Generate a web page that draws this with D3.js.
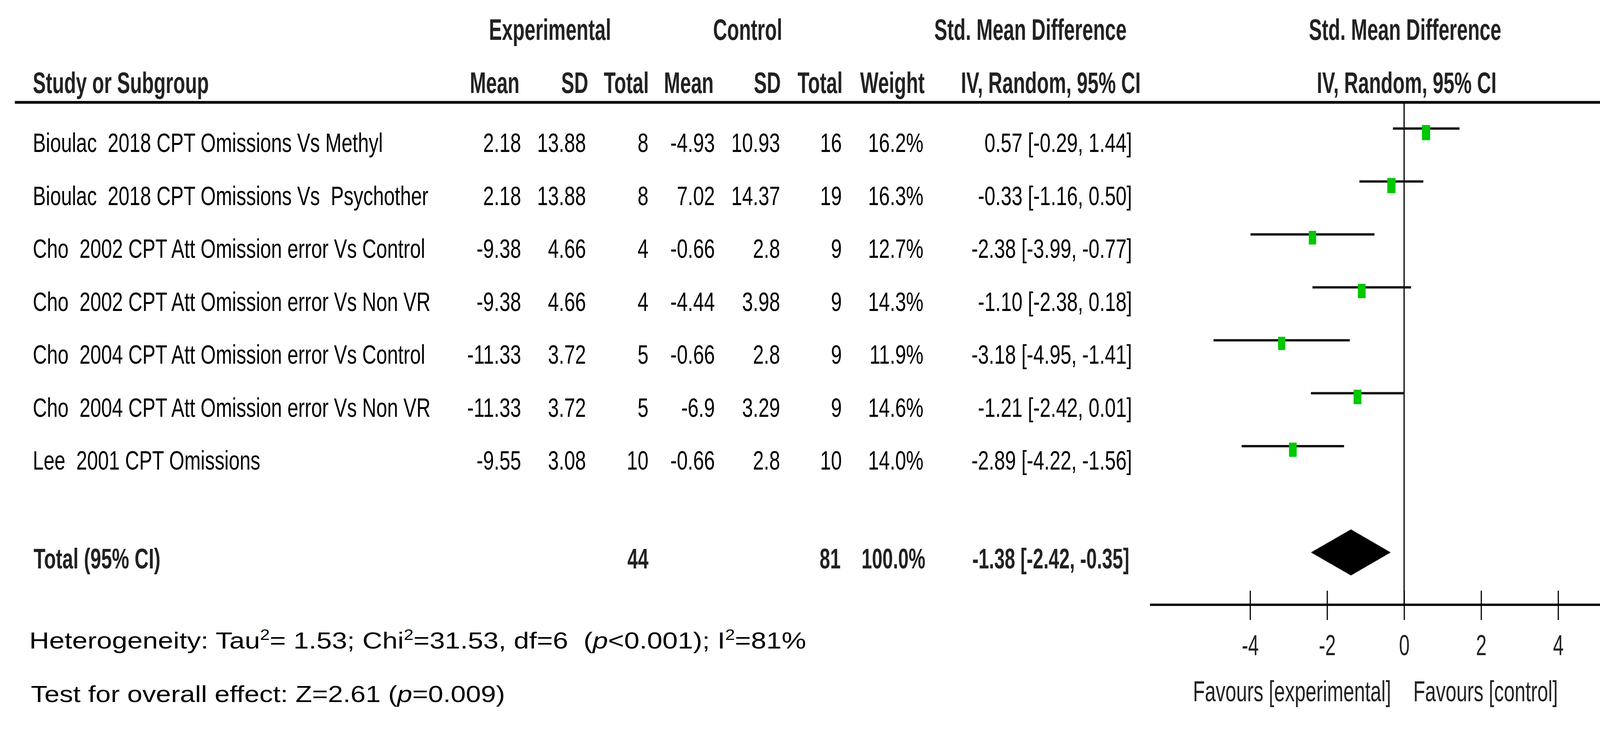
<!DOCTYPE html>
<html>
<head>
<meta charset="utf-8">
<script src="https://cdn.jsdelivr.net/npm/d3@7"></script>
<style>
  body { margin: 0; background: #fff; overflow: hidden; }
  svg { display: block; font-family: "Liberation Sans", Arial, sans-serif; }
  text { white-space: pre; }
</style>
</head>
<body>
<script>
// study data
const studies = [
    "Bioulac  2018 CPT Omissions Vs Methyl",
    "Bioulac  2018 CPT Omissions Vs  Psychother",
    "Cho  2002 CPT Att Omission error Vs Control",
    "Cho  2002 CPT Att Omission error Vs Non VR",
    "Cho  2004 CPT Att Omission error Vs Control",
    "Cho  2004 CPT Att Omission error Vs Non VR",
    "Lee  2001 CPT Omissions"
];
const expMean = [2.18, 2.18, -9.38, -9.38, -11.33, -11.33, -9.55];
const expSD = [13.88, 13.88, 4.66, 4.66, 3.72, 3.72, 3.08];
const expN = [8, 8, 4, 4, 5, 5, 10];
const ctlMean = [-4.93, 7.02, -0.66, -4.44, -0.66, -6.9, -0.66];
const ctlSD = [10.93, 14.37, 2.8, 3.98, 2.8, 3.29, 2.8];
const ctlN = [16, 19, 9, 9, 9, 9, 10];
const weights = [16.2, 16.3, 12.7, 14.3, 11.9, 14.6, 14.0];
const smd = [0.57, -0.33, -2.38, -1.10, -3.18, -1.21, -2.89];
const lower = [-0.29, -1.16, -3.99, -2.38, -4.95, -2.42, -4.22];
const upper = [1.44, 0.50, -0.77, 0.18, -1.41, 0.01, -1.56];

// pooled result
const totalN = [44, 81];
const totalWeight = 100.0;
const totalEffect = [-1.38, -2.42, -0.35]; // estimate, lower, upper

const tickValues = [-4, -2, 0, 2, 4];

const W = 4321, H = 1866;

const svg = d3.select("body").append("svg")
    .attr("width", W)
    .attr("height", H);

svg.append("rect").attr("width", W).attr("height", H).attr("fill", "#fff");

// text helper: the original type is horizontally squeezed, so scale x
function label(x, y, txt, o = {}) {
    return svg.append("text")
        .attr("transform", `translate(${x},${y}) scale(${o.sx || 0.735},1)`)
        .attr("text-anchor", o.anchor || "start")
        .attr("font-size", o.size || 68)
        .attr("font-weight", o.bold ? "bold" : "normal")
        .attr("fill", o.fill || "#000")
        .text(txt);
}

// stretch a text to a given width
function fit(sel, x, y, width) {
    const w = sel.node().getComputedTextLength();
    sel.attr("transform", `translate(${x},${y}) scale(${width / w},1)`);
}

// headers
const hd = {size: 76, bold: true, sx: 0.655, fill: "#222"};
label(1408, 102, "Experimental", {...hd, anchor: "middle"});
label(1914, 102, "Control", {...hd, anchor: "middle"});
label(2638, 102, "Std. Mean Difference", {...hd, anchor: "middle"});
label(3597, 102, "Std. Mean Difference", {...hd, anchor: "middle"});

label(84, 238, "Study or Subgroup", hd);
const headCols = [["Mean", 1330], ["SD", 1506], ["Total", 1661], ["Mean", 1827],
                  ["SD", 1999], ["Total", 2157], ["Weight", 2367]];
headCols.forEach(([t, x]) => label(x, 238, t, {...hd, anchor: "end"}));
label(2690, 238, "IV, Random, 95% CI", {...hd, anchor: "middle"});
label(3601, 238, "IV, Random, 95% CI", {...hd, anchor: "middle"});

// rows
const rowY = d3.scaleLinear().domain([0, studies.length - 1]).range([389, 1202]);

const cols = [
    {x: 1334, f: i => String(expMean[i])},
    {x: 1500, f: i => String(expSD[i])},
    {x: 1660, f: i => String(expN[i])},
    {x: 1830, f: i => String(ctlMean[i])},
    {x: 1997, f: i => String(ctlSD[i])},
    {x: 2155, f: i => String(ctlN[i])},
    {x: 2364, f: i => weights[i].toFixed(1) + "%"},
    {x: 2898, f: i => `${smd[i].toFixed(2)} [${lower[i].toFixed(2)}, ${upper[i].toFixed(2)}]`}
];

studies.forEach((s, i) => {
    const y = rowY(i);
    label(84, y, s);
    cols.forEach(c => label(c.x, y, c.f(i), {anchor: "end"}));
});

// total row
const totY = 1455;
const tot = {size: 72, bold: true, sx: 0.69, fill: "#222"};
const totNum = {...tot, anchor: "end", sx: 0.67};
label(86, totY, "Total (95% CI)", tot);
label(1660, totY, String(totalN[0]), totNum);
label(2152, totY, String(totalN[1]), totNum);
label(2369, totY, totalWeight.toFixed(1) + "%", totNum);
label(2891, totY, `${totalEffect[0].toFixed(2)} [${totalEffect[1].toFixed(2)}, ${totalEffect[2].toFixed(2)}]`, totNum);

// header rule
svg.append("line")
    .attr("x1", 38).attr("x2", 4289)
    .attr("y1", 262).attr("y2", 262)
    .attr("stroke", "#000").attr("stroke-width", 7);

// forest plot
const x = d3.scaleLinear().domain([-6.6, 6.6]).range([2944, 4245]);
const axisY = 1548;

svg.append("line")
    .attr("x1", x(0)).attr("x2", x(0))
    .attr("y1", 262).attr("y2", axisY)
    .attr("stroke", "#000").attr("stroke-width", 3);

const marker = d3.scaleLinear().domain([11.9, 16.3]).range([34, 39]);

const rows = svg.append("g").selectAll("g")
    .data(studies)
    .join("g");

rows.append("line")
    .attr("x1", (d, i) => x(lower[i]))
    .attr("x2", (d, i) => x(upper[i]))
    .attr("y1", (d, i) => rowY(i) - 60)
    .attr("y2", (d, i) => rowY(i) - 60)
    .attr("stroke", "#111")
    .attr("stroke-width", 6);

rows.append("rect")
    .attr("x", (d, i) => x(smd[i]) - marker(weights[i]) * 0.27)
    .attr("y", (d, i) => rowY(i) - 69)
    .attr("width", (d, i) => marker(weights[i]) * 0.54)
    .attr("height", (d, i) => marker(weights[i]))
    .attr("fill", "#00c800");

// pooled diamond
const dy = 1414, dh = 59;
svg.append("path")
    .attr("d", `M${x(totalEffect[1])},${dy} L${x(totalEffect[0])},${dy - dh} L${x(totalEffect[2])},${dy} L${x(totalEffect[0])},${dy + dh} Z`)
    .attr("fill", "#000");

// axis
svg.append("line")
    .attr("x1", x.range()[0]).attr("x2", x.range()[1])
    .attr("y1", axisY).attr("y2", axisY)
    .attr("stroke", "#000").attr("stroke-width", 6);

const gAxis = svg.append("g")
    .attr("transform", `translate(0,${axisY})`)
    .call(d3.axisBottom(x).tickValues(tickValues).tickSize(0).tickFormat(d => String(d)));
gAxis.select(".domain").remove();
gAxis.attr("font-size", null).attr("font-family", null);
gAxis.selectAll(".tick line")
    .attr("y1", -36).attr("y2", 39)
    .attr("stroke", "#000").attr("stroke-width", 3);
gAxis.selectAll(".tick text")
    .attr("y", null).attr("dy", null)
    .attr("transform", "translate(0,129) scale(0.66,1)")
    .attr("font-size", 74)
    .attr("fill", "#222");

// favours labels
const fav = {size: 74, fill: "#222"};
fit(label(3054, 1795, "Favours [experimental]", fav), 3054, 1795, 507);
fit(label(3618, 1795, "Favours [control]", fav), 3618, 1795, 370);

// heterogeneity and overall effect
const het = svg.append("text").attr("font-size", 60).attr("fill", "#000");
het.append("tspan").text("Heterogeneity: Tau");
het.append("tspan").attr("font-size", 38).attr("dy", -22).text("2");
het.append("tspan").attr("dy", 22).text("= 1.53; Chi");
het.append("tspan").attr("font-size", 38).attr("dy", -22).text("2");
het.append("tspan").attr("dy", 22).text("=31.53, df=6  (");
het.append("tspan").attr("font-style", "italic").text("p");
het.append("tspan").text("<0.001); I");
het.append("tspan").attr("font-size", 38).attr("dy", -22).text("2");
het.append("tspan").attr("dy", 22).text("=81%");
fit(het, 75, 1660, 1989);

const test = svg.append("text").attr("font-size", 60).attr("fill", "#000");
test.append("tspan").text("Test for overall effect: Z=2.61 (");
test.append("tspan").attr("font-style", "italic").text("p");
test.append("tspan").text("=0.009)");
fit(test, 79, 1797, 1214);
</script>
</body>
</html>
